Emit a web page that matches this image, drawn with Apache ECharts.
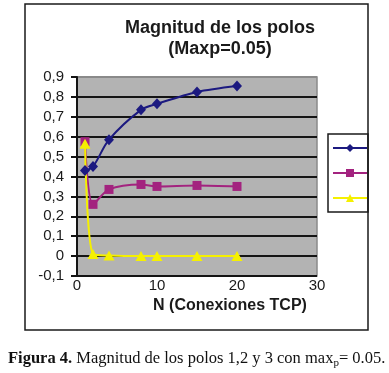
<!DOCTYPE html>
<html>
<head>
<meta charset="utf-8">
<script src="https://cdn.jsdelivr.net/npm/echarts@6/dist/echarts.min.js"></script>
<style>
  html, body { margin: 0; padding: 0; background: #fff; }
  #chart { width: 389px; height: 373px; }
</style>
</head>
<body>
<div id="chart"></div>
<script>
// datos
var conexiones = [1, 2, 4, 8, 10, 15, 20];
var polo1 = [0.43, 0.45, 0.585, 0.735, 0.765, 0.825, 0.855];
var polo2 = [0.575, 0.26, 0.335, 0.36, 0.35, 0.355, 0.35];
var polo3 = [0.565, 0.01, 0.003, 0, 0, 0, 0];
var nombres = ['Polo 1', 'Polo 2', 'Polo 3'];
var yTicks = [-0.1, 0, 0.1, 0.2, 0.3, 0.4, 0.5, 0.6, 0.7, 0.8, 0.9];

var pares = function(ys) {
	var out = [];
	for (var i = 0; i < conexiones.length; i++) {
		out.push([conexiones[i], ys[i]]);
	}
	return out;
};

// lineas de la grilla: negras, la de arriba gris (borde del area)
var gridColors = [];
for (var i = 0; i < yTicks.length; i++) {
	gridColors.push(i == yTicks.length - 1 ? '#8a8a8a' : '#141414');
}

var myChart = echarts.init(document.getElementById('chart'));
var option = {
	animation: false,
	backgroundColor: '#fff',
	title: {
		text: 'Magnitud de los polos\n(Maxp=0.05)',
		left: 215,
		top: 13,
		textAlign: 'center',
		textStyle: {
			fontFamily: 'Liberation Sans, Arial, sans-serif',
			fontSize: 18,
			fontWeight: 'bold',
			color: '#1a1a1a',
			lineHeight: 21
		}
	},
	legend: {
		left: 328,
		top: 134,
		orient: 'vertical',
		padding: [9, 0, 10, 4],
		itemGap: 16,
		itemWidth: 34,
		itemHeight: 10,
		borderColor: '#1a1a1a',
		borderWidth: 1.5,
		formatter: function() { return ''; },
		textStyle: { fontSize: 1 },
		data: nombres
	},
	grid: {
		left: 77,
		right: 72,
		top: 77,
		bottom: 97,
		show: true,
		backgroundColor: '#b3b3b3',
		borderColor: '#8a8a8a',
		borderWidth: 1.5
	},
	xAxis: {
		type: 'value',
		min: 0,
		max: 30,
		interval: 10,
		name: 'N (Conexiones TCP)',
		nameLocation: 'middle',
		nameGap: 22,
		nameTextStyle: {
			fontFamily: 'Liberation Sans, Arial, sans-serif',
			fontSize: 16,
			fontWeight: 'bold',
			color: '#1a1a1a',
			padding: [0, 0, 0, 66]
		},
		axisLine: { show: false },
		axisTick: { show: false },
		axisLabel: {
			margin: 2,
			fontFamily: 'Liberation Sans, Arial, sans-serif',
			fontSize: 15,
			color: '#1a1a1a'
		},
		splitLine: { show: false }
	},
	yAxis: {
		type: 'value',
		min: -0.1,
		max: 0.9,
		interval: 0.1,
		axisLine: { show: true, onZero: false, lineStyle: { color: '#141414', width: 2 } },
		axisTick: { show: true, length: 6, lineStyle: { color: '#141414', width: 2 } },
		axisLabel: {
			margin: 13,
			fontFamily: 'Liberation Sans, Arial, sans-serif',
			fontSize: 15,
			color: '#1a1a1a',
			formatter: function(v) {
				var r = Math.round(v * 10) / 10;
				if (r == 0) return '0';
				return r.toFixed(1).replace('.', ',');
			}
		},
		splitLine: { show: true, lineStyle: { color: gridColors, width: 2 } }
	},
	series: [
		{
			name: nombres[0],
			type: 'line',
			smooth: 0.3,
			data: pares(polo1),
			symbol: 'diamond',
			symbolSize: [10, 11],
			color: '#1c1a80',
			lineStyle: { width: 2 }
		},
		{
			name: nombres[1],
			type: 'line',
			smooth: 0.3,
			data: pares(polo2),
			symbol: 'rect',
			symbolSize: 9,
			color: '#a3237f',
			lineStyle: { width: 2 }
		},
		{
			name: nombres[2],
			type: 'line',
			smooth: 0.3,
			data: pares(polo3),
			symbol: 'triangle',
			symbolSize: [11, 10],
			color: '#f5f000',
			lineStyle: { width: 2 }
		}
	],
	graphic: [
		{
			type: 'rect',
			shape: { x: 25, y: 4, width: 343, height: 326 },
			style: { fill: 'none', stroke: '#1a1a1a', lineWidth: 1.5 },
			silent: true
		},
		{
			type: 'text',
			left: 8,
			top: 350,
			style: {
				text: '{b|Figura 4.} Magnitud de los polos 1,2 y 3 con max{s|p}= 0.05.',
				font: '16.5px "Liberation Serif", "Times New Roman", serif',
				fill: '#111',
				rich: {
					b: { fontWeight: 'bold', fontFamily: 'Liberation Serif', fontSize: 16.5, fill: '#111' },
					s: { fontFamily: 'Liberation Serif', fontSize: 11, padding: [9, 0, 0, 0], fill: '#111' }
				}
			}
		}
	]
};
myChart.setOption(option);
</script>
</body>
</html>
